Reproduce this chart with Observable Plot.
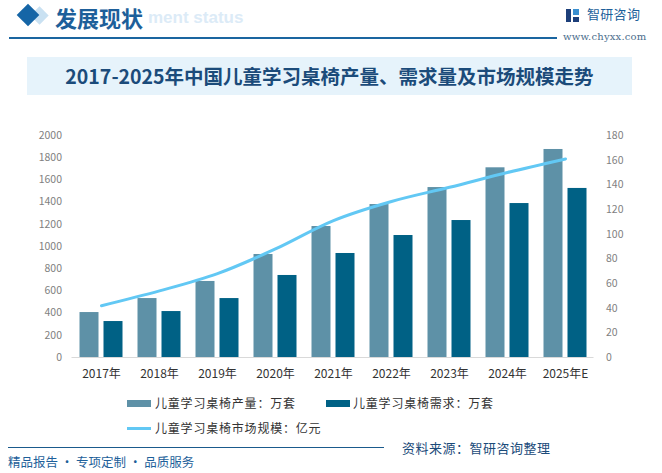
<!DOCTYPE html>
<html><head><meta charset="utf-8">
<script src="https://cdn.jsdelivr.net/npm/d3@7"></script>
<script src="https://cdn.jsdelivr.net/npm/@observablehq/plot@0.6"></script>
<style>
body{margin:0;background:#fff;font-family:"Noto Sans CJK SC","Noto Sans",sans-serif;}
#root{position:relative;width:662px;height:473px;overflow:hidden;background:#fff;}
.abs{position:absolute;white-space:nowrap;}
#plot{position:absolute;left:0;top:120px;}
.lg{position:absolute;font-size:12px;color:#333;letter-spacing:0.8px;line-height:16px;white-space:nowrap;}
.sw{position:absolute;}
</style></head><body><div id="root"></div>
<script>
// ---- data ----
const years = ["2017年","2018年","2019年","2020年","2021年","2022年","2023年","2024年","2025年E"];
const production = [405, 531, 685, 928, 1180, 1378, 1531, 1709, 1874];   // 万套
const demand = [324, 414, 531, 739, 937, 1099, 1234, 1387, 1523];        // 万套
const marketSize = [42, 54, 68, 88, 111, 126.5, 138, 150, 161];          // 亿元
const leftTicks = [0,200,400,600,800,1000,1200,1400,1600,1800,2000];
const rightTicks = [0,20,40,60,80,100,120,140,160,180];
const seriesNames = ["儿童学习桌椅产量：万套","儿童学习桌椅需求：万套","儿童学习桌椅市场规模：亿元"];
const titleText = "2017-2025年中国儿童学习桌椅产量、需求量及市场规模走势";

const prodColor = "#5e91a7", demColor = "#006185", lineColor = "#62c8f4";
const leftMax = 2000, rightMax = 180, k = leftMax / rightMax;

const data = years.map((y,i)=>({year:y, production:production[i], demand:demand[i], market:marketSize[i]}));
const root = document.getElementById("root");

// ---- header ----
root.insertAdjacentHTML("beforeend", `
<div class="abs" style="left:33px;top:9px;width:13px;height:13px;background:#c9e1f2;transform:rotate(45deg);"></div>
<div class="abs" style="left:20px;top:7px;width:16px;height:16px;background:#1565a6;transform:rotate(45deg);"></div>
<div class="abs" style="left:148px;top:8px;font:bold 17px 'Liberation Sans',Arial,sans-serif;color:#dcebf7;">ment status</div>
<div class="abs" style="left:55px;top:2px;font-size:22px;font-weight:bold;color:#1d5f9a;line-height:30px;">发展现状</div>
<div class="abs" style="left:9px;top:37px;width:548px;height:2px;background:#1a65a0;"></div>
<div class="abs" style="left:566px;top:9px;width:5px;height:13px;background:#1d3f7a;"></div>
<div class="abs" style="left:573px;top:9px;width:6px;height:6px;background:#3a8fd0;"></div>
<div class="abs" style="left:573px;top:17px;width:6px;height:5px;background:#1d3f7a;"></div>
<div class="abs" style="left:587px;top:5px;font-size:13px;color:#1d5f9a;line-height:17px;letter-spacing:0.3px;">智研咨询</div>
<div class="abs" style="left:563px;top:31px;font:10px 'DejaVu Serif','Liberation Serif',serif;color:#4a6d8c;line-height:12px;letter-spacing:0.2px;">www.chyxx.com</div>
<div class="abs" style="left:27px;top:57px;width:605px;height:38px;background:#e6f3fb;"></div>
<div class="abs" style="left:27px;top:57px;width:605px;height:38px;line-height:38px;text-align:center;font-size:19.5px;font-weight:bold;color:#1b4b7a;">${titleText}</div>
`);

// ---- chart ----
const chart = Plot.plot({
  width: 662,
  height: 275,
  marginTop: 15,
  marginBottom: 38,
  marginLeft: 71.5,
  marginRight: 68.5,
  style: {fontFamily: "'Noto Sans CJK SC','Noto Sans',sans-serif", background: "transparent"},
  x: {type: "band", domain: years, padding: 0, axis: null},
  y: {domain: [0, leftMax], axis: null},
  marks: [
    Plot.barY(data, {x: "year", y: "production", fill: prodColor, insetLeft: 7.5, insetRight: 31.5}),
    Plot.barY(data, {x: "year", y: "demand", fill: demColor, insetLeft: 31.5, insetRight: 7.5}),
    Plot.ruleY([0], {stroke: "#d9d9d9", strokeWidth: 1}),
    Plot.lineY(data, {x: "year", y: d => d.market * k, stroke: lineColor, strokeWidth: 3, curve: "catmull-rom"}),
    Plot.axisX({tickSize: 0, tickPadding: 12, fontSize: 12, fill: "#333", label: null}),
    Plot.axisY({anchor: "left", ticks: leftTicks, tickFormat: d => String(d), tickSize: 0, tickPadding: 10, fontSize: 10.5, fill: "#7f7f7f", label: null}),
    Plot.axisY({anchor: "right", ticks: rightTicks.map(v => v * k), tickFormat: d => String(Math.round(d / k)), tickSize: 0, tickPadding: 12, fontSize: 10.5, fill: "#7f7f7f", label: null})
  ]
});
chart.id = "plot";
root.appendChild(chart);

// ---- legend ----
root.insertAdjacentHTML("beforeend", `
<div class="sw" style="left:127px;top:400px;width:24px;height:7px;background:${prodColor};"></div>
<div class="lg" style="left:155px;top:395px;">${seriesNames[0]}</div>
<div class="sw" style="left:326px;top:400px;width:24px;height:7px;background:${demColor};"></div>
<div class="lg" style="left:353px;top:395px;">${seriesNames[1]}</div>
<div class="sw" style="left:127px;top:427px;width:24px;height:3px;background:${lineColor};"></div>
<div class="lg" style="left:155px;top:420px;">${seriesNames[2]}</div>
`);

// ---- footer ----
root.insertAdjacentHTML("beforeend", `
<div class="abs" style="left:8px;top:447px;width:376px;height:1px;background:#1a5a8c;"></div>
<div class="abs" style="left:402px;top:439px;font-size:13px;color:#1b4b7a;line-height:18px;letter-spacing:0.5px;">资料来源：智研咨询整理</div>
<div class="abs" style="left:8px;top:453px;font-size:12.5px;color:#1d5f9a;line-height:18px;">精品报告 · 专项定制 · 品质服务</div>
`);
</script>
</body></html>
